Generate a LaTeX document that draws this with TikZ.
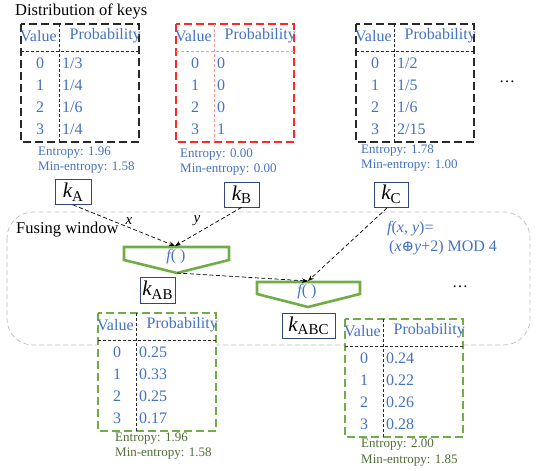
\documentclass[tikz,border=0pt]{standalone}
\usepackage{fontspec}
\setmainfont{Liberation Serif}
\newfontfamily\symfont{DejaVu Serif}
\usetikzlibrary{arrows.meta}
\definecolor{kblue}{RGB}{68,114,196}
\definecolor{boxgray}{RGB}{40,40,40}
\definecolor{boxred}{RGB}{255,40,40}
\definecolor{lightred}{RGB}{255,150,150}
\definecolor{fgreen}{RGB}{112,173,71}
\definecolor{tgreen}{RGB}{80,110,55}
\definecolor{kframe}{RGB}{47,70,130}
\tikzset{
  outerbox/.style={line width=1.8pt, dash pattern=on 8pt off 4pt, fill=white},
  sepline/.style={line width=0.8pt, dash pattern=on 3pt off 2pt},
  hdr/.style={text=kblue, font=\fontsize{16}{18}\selectfont, inner sep=0pt},
  cell/.style={text=kblue, font=\fontsize{16}{18}\selectfont, inner sep=0pt},
  ent/.style={font=\fontsize{13}{15}\selectfont, inner sep=0pt, anchor=west},
  kbox/.style={draw=kframe, line width=0.8pt, inner sep=0pt, fill=white, minimum height=25pt},
  fshape/.style={draw=fgreen, line width=2.6pt, line join=miter},
  arr/.style={black, line width=0.7pt, dash pattern=on 4pt off 2.5pt, -{Stealth[length=6pt,width=4.5pt]}},
  ftext/.style={text=kblue, font=\fontsize{16}{18}\selectfont, inner sep=0pt},
}
% #1 id, #2 left, #3 top, #4 box colour, #5 separator colour
\newcommand\dtab[5]{%
  \draw[outerbox, draw=#4] (#2,#3) rectangle ++(118,118);
  \draw[sepline, draw=#5] (#2,#3+27) -- ++(118,0);
  \draw[sepline, draw=#5] (#2+38,#3) -- ++(0,118);
  \node[hdr, anchor=west] (#1-v) at (#2-1,#3+12) {Value};
  \node[hdr, anchor=east] (#1-p) at (#2+120,#3+12) {Probability};
  \foreach \i in {0,1,2,3}{
    \node[cell] (#1-v\i) at (#2+19,#3+39+22*\i) {\i};
  }
}
% #1 id, #2 left, #3 top, #4 list of probabilities
\newcommand\dprobs[4]{%
  \foreach \p [count=\i from 0] in {#4}{
    \node[cell, anchor=west] (#1-p\i) at (#2+41,#3+39+22*\i) {\p};
  }
}
\newcommand\kname[1]{{\fontsize{21}{21}\selectfont\itshape k}\raisebox{-3.5pt}{\fontsize{15}{15}\selectfont #1}}
\newcommand\fempty{{\itshape f}(\hspace{4pt})}
\begin{document}
\begin{tikzpicture}[x=1pt, y=-1pt]
\useasboundingbox (0,0) rectangle (538,471);

% title
\node[anchor=west, inner sep=0pt, font=\fontsize{16.5}{18}\selectfont] (title) at (15,11) {Distribution of keys};

% top tables
\dtab{t1}{21}{24}{boxgray}{boxgray}
\dprobs{t1}{21}{24}{1/3,1/4,1/6,1/4}
\node[ent, text=kblue] (t1-e) at (38,153) {Entropy: 1.96};
\node[ent, text=kblue] (t1-m) at (38,168) {Min-entropy: 1.58};

\dtab{t2}{176}{24}{boxred}{lightred}
\dprobs{t2}{176}{24}{0,0,0,1}
\node[ent, text=kblue] (t2-e) at (180,155) {Entropy: 0.00};
\node[ent, text=kblue] (t2-m) at (180,170) {Min-entropy: 0.00};

\dtab{t3}{356}{24}{boxgray}{boxgray}
\dprobs{t3}{356}{24}{1/2,1/5,1/6,2/15}
\node[ent, text=kblue] (t3-e) at (361,151) {Entropy: 1.78};
\node[ent, text=kblue] (t3-m) at (361,166) {Min-entropy: 1.00};

\node[inner sep=0pt, font=\fontsize{16}{18}\selectfont] (dots1) at (507,82) {…};

% fusing window
\draw[black!25, line width=0.7pt, dash pattern=on 5pt off 3pt, rounded corners=26pt] (7,212) rectangle (530,345);
\node[anchor=west, inner sep=0pt, font=\fontsize{16.5}{18}\selectfont] (fw) at (16,230) {Fusing window};

% keys
\node[kbox, minimum width=36pt] (kA) at (73,192) {\kname{A}};
\node[kbox, minimum width=35pt] (kB) at (241.5,194.5) {\kname{B}};
\node[kbox, minimum width=34pt] (kC) at (391,194.5) {\kname{C}};

% fusing shapes
\coordinate (f1in) at (175,246);
\coordinate (f1tip) at (177,273);
\draw[fshape] (124,247) -- (229,247) -- (229,260) -- (f1tip) -- (124,260) -- cycle;
\node[ftext] (f1) at (176,257) {\fempty};

\coordinate (f2in) at (308,281);
\coordinate (f2tip) at (308,307);
\draw[fshape] (257,282) -- (360,282) -- (360,294) -- (f2tip) -- (257,294) -- cycle;
\node[ftext] (f2) at (307,292) {\fempty};

\node[kbox, minimum width=35pt, minimum height=26pt] (kAB) at (157.5,290) {\kname{AB}};
\node[kbox, minimum width=53pt] (kABC) at (308.5,326) {\kname{ABC}};

% arrows
\coordinate (kCo) at (387,208);
\draw[arr] (kA.south) -- (f1in);
\draw[arr] (kB.south) -- (f1in);
\draw[arr] (f1tip) -- (f2in);
\draw[arr] (kCo) -- (f2in);
\node[inner sep=0pt, font=\fontsize{15}{17}\selectfont\itshape] (lx) at (129,221) {x};
\node[inner sep=0pt, font=\fontsize{15}{17}\selectfont\itshape] (ly) at (197,221) {y};

% function definition
\node[anchor=west, inner sep=0pt, text=kblue, font=\fontsize{16}{18}\selectfont] (fdef1) at (387,229) {{\itshape f}({\itshape x}, {\itshape y})=};
\node[anchor=west, inner sep=0pt, text=kblue, font=\fontsize{16}{18}\selectfont] (fdef2) at (389,248) {({\itshape x}{\symfont\fontsize{15}{16}\selectfont ⊕}{\itshape y}+2) MOD 4};
\node[inner sep=0pt, font=\fontsize{16}{18}\selectfont] (dots2) at (460,287) {…};

% bottom tables
\dtab{t4}{98}{313}{fgreen}{boxgray}
\dprobs{t4}{98}{313}{0.25,0.33,0.25,0.17}
\node[ent, text=tgreen] (t4-e) at (115,439) {Entropy: 1.96};
\node[ent, text=tgreen] (t4-m) at (115,454) {Min-entropy: 1.58};

\dtab{t5}{345}{319}{fgreen}{boxgray}
\dprobs{t5}{345}{319}{0.24,0.22,0.26,0.28}
\node[ent, text=tgreen] (t5-e) at (361,445) {Entropy: 2.00};
\node[ent, text=tgreen] (t5-m) at (361,461) {Min-entropy: 1.85};
\end{tikzpicture}
\end{document}
